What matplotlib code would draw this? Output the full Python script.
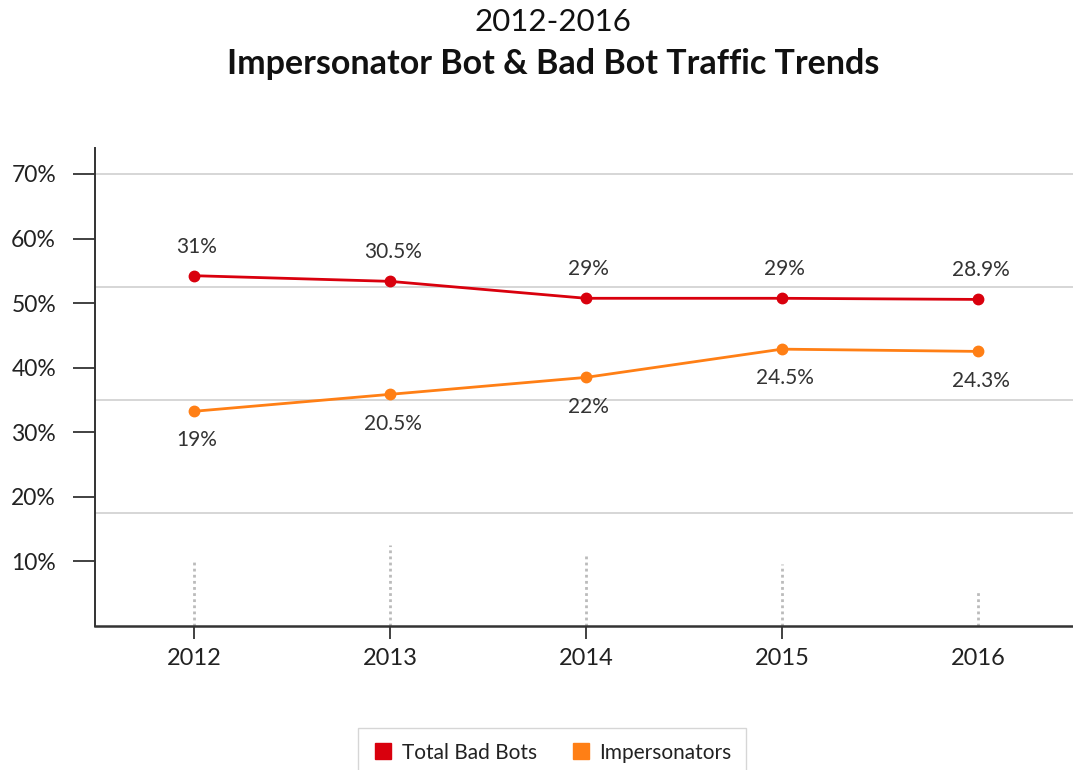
import matplotlib.pyplot as plt
import numpy as np
from matplotlib.lines import Line2D

plt.rcParams['font.family'] = ['Lato', 'DejaVu Sans']

years = ["2012", "2013", "2014", "2015", "2016"]
total_bad_bots = [31, 30.5, 29, 29, 28.9]
impersonators = [19, 20.5, 22, 24.5, 24.3]
ytick_labels = ["10%", "20%", "30%", "40%", "50%", "60%", "70%"]
grid_values = [10, 20, 30, 40]
# dotted stubs drawn at each year (height in data units)
stub_heights = [5.8, 7.2, 6.5, 5.5, 3.1]

RED = "#d9000d"
ORANGE = "#ff7f15"
DARK = "#333333"

fig = plt.figure(figsize=(10.73, 7.70), dpi=100)
ax = fig.add_axes([95 / 1073, 1 - 626 / 770, 1 - 95 / 1073, (626 - 148) / 770])

x = np.arange(len(years))

for g in grid_values:
    ax.axhline(g, color="#cccccc", lw=1.1, zorder=0)

ax.vlines(x, 0, stub_heights, colors="#bbbbbb", linestyles=(0, (1, 1.2)), lw=2, zorder=1)

ax.plot(x, total_bad_bots, color=RED, lw=2, marker="o", ms=7.5, zorder=3)
ax.plot(x, impersonators, color=ORANGE, lw=2, marker="o", ms=7.5, zorder=3)

for xi, v in zip(x, total_bad_bots):
    ax.annotate(f"{v:g}%", (xi, v), xytext=(2, 21), textcoords="offset points",
                ha="center", va="center", fontsize=15, color=DARK)
for xi, v in zip(x, impersonators):
    ax.annotate(f"{v:g}%", (xi, v), xytext=(2, -21), textcoords="offset points",
                ha="center", va="center", fontsize=15, color=DARK)

ax.set_xlim(-0.505, 4.485)
ax.set_ylim(0, 42.3)

ax.set_xticks(x)
ax.set_xticklabels(years)
ax.set_yticks(np.linspace(0, 40, len(ytick_labels) + 1)[1:])
ax.set_yticklabels(ytick_labels)

ax.tick_params(axis="x", length=9, width=1.3, colors=DARK, pad=7, labelsize=17, labelcolor="#222222")
ax.tick_params(axis="y", length=16, width=1.3, colors=DARK, pad=12, labelsize=16.5, labelcolor="#222222")
ax.xaxis.get_major_ticks()[-1].tick1line.set_visible(False)

for s in ["top", "right"]:
    ax.spines[s].set_visible(False)
ax.spines["left"].set_color(DARK)
ax.spines["left"].set_linewidth(1.4)
ax.spines["bottom"].set_color(DARK)
ax.spines["bottom"].set_linewidth(1.8)

fig.text(553 / 1073, 1 - 22 / 770, "2012-2016", ha="center", va="center", fontsize=22.5, color="#111111")
fig.text(553 / 1073, 1 - 64 / 770, "Impersonator Bot & Bad Bot Traffic Trends", ha="center", va="center",
         fontsize=24.5, fontweight="bold", color="#111111")

handles = [
    Line2D([], [], color=RED, marker="s", ls="none", ms=11),
    Line2D([], [], color=ORANGE, marker="s", ls="none", ms=11),
]
leg = fig.legend(handles, ["Total Bad Bots", "Impersonators"], loc="upper center",
                 bbox_to_anchor=(552 / 1073, 1 - 728 / 770), ncol=2, fontsize=15,
                 frameon=True, fancybox=False, edgecolor="#cccccc", handletextpad=0.4,
                 columnspacing=1.6, borderpad=0.7, handlelength=1.0, borderaxespad=0)
for t in leg.get_texts():
    t.set_color("#222222")

fig.savefig("out.png", dpi=100)
